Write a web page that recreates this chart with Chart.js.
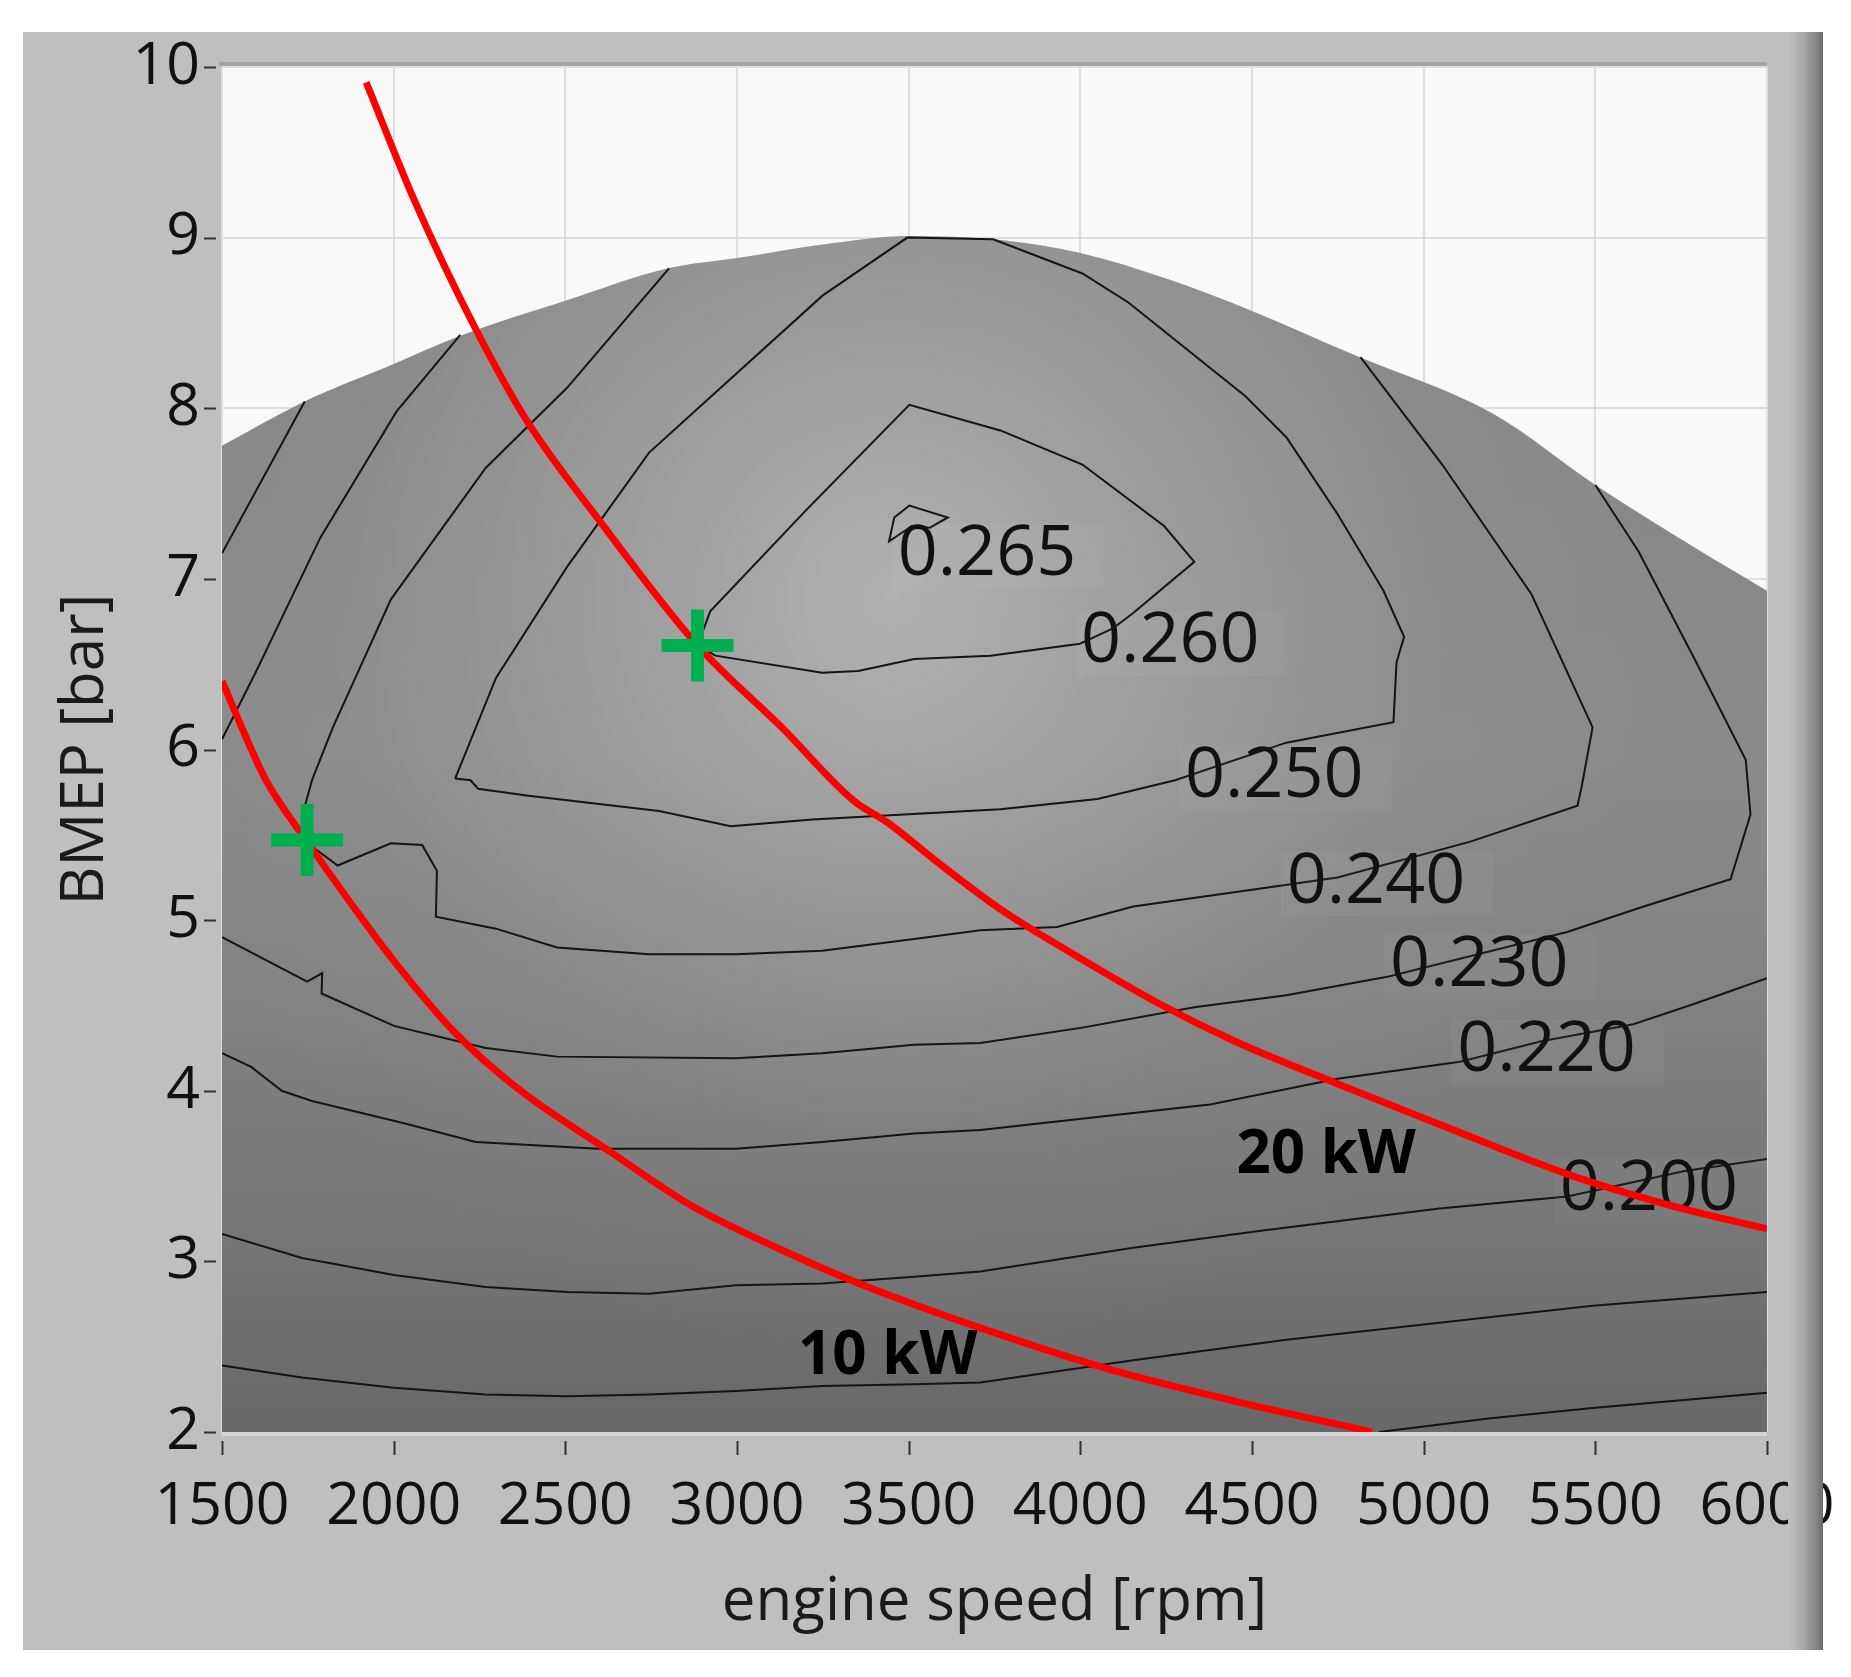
<!DOCTYPE html>
<html>
<head>
<meta charset="utf-8">
<script src="https://cdn.jsdelivr.net/npm/chart.js@4.4.1/dist/chart.umd.min.js"></script>
<style>
  html, body { margin: 0; padding: 0; background: #fff; overflow: hidden; }
  #wrap { position: relative; width: 1851px; height: 1677px; }
</style>
</head>
<body>
<div id="wrap"><canvas id="bsfcMap"></canvas></div>
<script>
// axis ticks
const rpmTicks = [1500, 2000, 2500, 3000, 3500, 4000, 4500, 5000, 5500, 6000];
const bmepTicks = [2, 3, 4, 5, 6, 7, 8, 9, 10];

// full-load line = upper edge of the shaded map  [rpm, bmep]
const fullLoad = [[1500, 7.78], [1740, 8.04], [2000, 8.26], [2200, 8.43], [2500, 8.63], [2800, 8.82],
  [3000, 8.88], [3250, 8.96], [3500, 9.01], [3750, 8.99], [4000, 8.91], [4250, 8.76], [4500, 8.57],
  [4800, 8.31], [5200, 7.97], [5500, 7.55], [5800, 7.17], [6000, 6.93]];

// iso-BSFC lines  [rpm, bmep]
const c265 = [[3458, 7.36], [3502, 7.43], [3614, 7.36], [3562, 7.30], [3510, 7.31], [3443, 7.22], [3458, 7.36]];
const c260 = [[2885, 6.61], [2922, 6.81], [3200, 7.40], [3502, 8.02], [3767, 7.87], [4006, 7.67], [4244, 7.31],
  [4332, 7.10], [4154, 6.80], [4095, 6.71], [3999, 6.62], [3738, 6.55], [3516, 6.53], [3353, 6.46],
  [3248, 6.45], [2937, 6.55], [2885, 6.61]];
const c250 = [[2179, 5.83], [2298, 6.42], [2505, 7.07], [2744, 7.74], [3249, 8.66], [3496, 9.0], [3746, 8.99],
  [4006, 8.79], [4140, 8.62], [4481, 8.07], [4600, 7.83], [4749, 7.38], [4883, 6.93], [4943, 6.66],
  [4921, 6.51], [4912, 6.16], [4600, 6.04], [4276, 5.82], [4050, 5.71], [3767, 5.65], [3219, 5.59],
  [2982, 5.55], [2773, 5.64], [2387, 5.73], [2246, 5.77], [2224, 5.82], [2179, 5.83]];
const c240 = [[2802, 8.82], [2505, 8.12], [2268, 7.65], [1992, 6.88], [1823, 6.13], [1762, 5.82], [1735, 5.62],
  [1770, 5.42], [1837, 5.32], [1992, 5.45], [2083, 5.44], [2126, 5.29], [2123, 5.02], [2298, 4.95],
  [2476, 4.84], [2744, 4.80], [2997, 4.80], [3248, 4.82], [3516, 4.89], [3709, 4.94], [3932, 4.96],
  [4154, 5.08], [4541, 5.19], [4749, 5.25], [5136, 5.46], [5448, 5.67], [5460, 5.78], [5492, 6.13],
  [5314, 6.91], [5054, 7.67], [4816, 8.30]];
const c230a = [[1500, 6.06], [1600, 6.46], [1786, 7.24], [2008, 7.98], [2194, 8.43]];
const c230b = [[1500, 4.90], [1748, 4.64], [1792, 4.69], [1790, 4.57], [2001, 4.38], [2268, 4.25], [2476, 4.20],
  [2997, 4.19], [3248, 4.22], [3516, 4.27], [3709, 4.28], [4006, 4.37], [4332, 4.49], [4600, 4.56],
  [4898, 4.67], [5418, 4.93], [5641, 5.08], [5894, 5.24], [5952, 5.62], [5938, 5.94], [5789, 6.53],
  [5626, 7.16], [5500, 7.55]];
const c220a = [[1500, 7.15], [1741, 8.04]];
const c220b = [[1500, 4.22], [1585, 4.14], [1674, 4.00], [1762, 3.94], [2030, 3.81], [2239, 3.70], [2596, 3.66],
  [2997, 3.66], [3248, 3.70], [3516, 3.75], [3709, 3.77], [4154, 3.87], [4378, 3.92], [4749, 4.07],
  [5106, 4.17], [5343, 4.29], [5611, 4.39], [5789, 4.51], [6000, 4.66]];
const c200 = [[1500, 3.16], [1733, 3.02], [2001, 2.92], [2268, 2.85], [2505, 2.82], [2744, 2.81], [2997, 2.86],
  [3248, 2.87], [3516, 2.91], [3709, 2.94], [4154, 3.08], [4526, 3.18], [5046, 3.31], [5418, 3.38],
  [5760, 3.53], [6000, 3.60]];
const c190 = [[1500, 2.39], [1733, 2.32], [2001, 2.26], [2268, 2.22], [2505, 2.21], [2744, 2.22], [2997, 2.24],
  [3248, 2.27], [3516, 2.28], [3709, 2.29], [4154, 2.42], [4600, 2.54], [5046, 2.64], [5492, 2.74],
  [6000, 2.82]];
const c180 = [[4870, 2.0], [5195, 2.08], [5492, 2.14], [6000, 2.23]];

// constant power lines [rpm, bmep]
const power20 = [[1920, 9.91], [2060, 9.22], [2240, 8.46], [2390, 7.92], [2600, 7.34], [2885, 6.61], [3130, 6.13],
  [3340, 5.70], [3440, 5.57], [3590, 5.33], [3770, 5.06], [3930, 4.86], [4230, 4.51], [4450, 4.29],
  [4750, 4.04], [5050, 3.80], [5420, 3.51], [5715, 3.33], [6000, 3.19]];
const power10 = [[1500, 6.40], [1628, 5.82], [1748, 5.46], [1882, 5.08], [2001, 4.76], [2179, 4.34], [2357, 4.02],
  [2625, 3.65], [2864, 3.33], [3116, 3.08], [3368, 2.86], [3709, 2.61], [4080, 2.37], [4452, 2.18],
  [4850, 2.0]];

// operating points (green crosses)
const opPoints = [[1748, 5.47], [2885, 6.61]];

const contourLabels = [
  { text: '0.265', rpm: 3728, bmep: 7.14 },
  { text: '0.260', rpm: 4262, bmep: 6.63 },
  { text: '0.250', rpm: 4565, bmep: 5.84 },
  { text: '0.240', rpm: 4861, bmep: 5.22 },
  { text: '0.230', rpm: 5162, bmep: 4.73 },
  { text: '0.220', rpm: 5358, bmep: 4.23 },
  { text: '0.200', rpm: 5656, bmep: 3.42 }
];
const powerLabels = [
  { text: '20 kW', rpm: 4716, bmep: 3.62 },
  { text: '10 kW', rpm: 3439, bmep: 2.44 }
];

const FONT = '"Open Sans", "DejaVu Sans", sans-serif';
const xy = arr => arr.map(p => ({ x: p[0], y: p[1] }));

// shading of the map: dark towards low load, light spot round the best point
function baseShade(chart) {
  const { ctx, chartArea, scales } = chart;
  if (!chartArea) return '#888';
  const g = ctx.createLinearGradient(0, scales.y.getPixelForValue(9), 0, scales.y.getPixelForValue(2));
  g.addColorStop(0, '#868686');
  g.addColorStop(0.43, '#8a8a8a');
  g.addColorStop(0.64, '#828282');
  g.addColorStop(0.86, '#747474');
  g.addColorStop(1, '#686868');
  return g;
}
function glowShade(chart) {
  const { ctx, chartArea, scales } = chart;
  if (!chartArea) return 'rgba(255,255,255,0)';
  const cx = scales.x.getPixelForValue(3450), cy = scales.y.getPixelForValue(6.9);
  const g = ctx.createRadialGradient(cx, cy, 0, cx, cy, 780);
  g.addColorStop(0, 'rgba(255,255,255,0.34)');
  g.addColorStop(0.35, 'rgba(255,255,255,0.17)');
  g.addColorStop(0.7, 'rgba(255,255,255,0.03)');
  g.addColorStop(1, 'rgba(255,255,255,0)');
  return g;
}

const contourSet = (label, arr) => ({
  label, data: xy(arr), borderColor: '#141414', borderWidth: 2, pointRadius: 0,
  tension: 0, fill: false, order: 10
});

const framePlugin = {
  id: 'frame',
  beforeDraw(chart) {
    const { ctx, chartArea: a } = chart;
    ctx.save();
    ctx.fillStyle = '#ffffff';
    ctx.fillRect(0, 0, chart.width, chart.height);
    ctx.fillStyle = '#bfbfbf';
    ctx.fillRect(23, 32, 1800, 1618);
    ctx.fillStyle = '#f9f9f9';
    ctx.fillRect(a.left, a.top, a.right - a.left, a.bottom - a.top);
    ctx.restore();
  },
  beforeDatasetDraw(chart, args) {
    // labels sit above the iso lines but under the red power lines
    if (chart.data.datasets[args.index].label !== '10 kW') return;
    const { ctx, scales } = chart;
    ctx.save();
    ctx.textAlign = 'center';
    ctx.textBaseline = 'middle';
    ctx.font = '70px ' + FONT;
    contourLabels.forEach(l => {
      const px = scales.x.getPixelForValue(l.rpm), py = scales.y.getPixelForValue(l.bmep);
      const w = ctx.measureText(l.text).width;
      // faint box behind each value, as in the source map
      ctx.fillStyle = 'rgba(255,255,255,0.035)';
      ctx.fillRect(px - w / 2 - 6, py - 32, w + 34, 66);
      ctx.fillStyle = '#111';
      ctx.fillText(l.text, px, py);
    });
    ctx.font = 'bold 60px ' + FONT;
    ctx.fillStyle = '#000';
    powerLabels.forEach(l => {
      ctx.fillText(l.text, scales.x.getPixelForValue(l.rpm), scales.y.getPixelForValue(l.bmep));
    });
    ctx.restore();
  },
  afterDraw(chart) {
    const { ctx, chartArea: a, scales } = chart;
    ctx.save();
    // darker rim on top of the plot, light one below
    ctx.fillStyle = '#a4a4a4';
    ctx.fillRect(a.left - 3, a.top - 5, a.right - a.left + 3, 4);
    ctx.fillStyle = '#d6d6d6';
    ctx.fillRect(a.left, a.bottom, a.right - a.left, 4);
    // tick marks
    ctx.strokeStyle = '#333';
    ctx.lineWidth = 2;
    rpmTicks.forEach(v => {
      const px = Math.round(scales.x.getPixelForValue(v)) + 0.5;
      ctx.beginPath(); ctx.moveTo(px, a.bottom + 9); ctx.lineTo(px, a.bottom + 23); ctx.stroke();
    });
    bmepTicks.forEach(v => {
      const py = Math.round(scales.y.getPixelForValue(v)) + 0.5;
      ctx.beginPath(); ctx.moveTo(a.left - 18, py); ctx.lineTo(a.left - 6, py); ctx.stroke();
    });
    // splitter bar at the right edge of the panel
    const g = ctx.createLinearGradient(1788, 0, 1823, 0);
    g.addColorStop(0, '#c0c0c0');
    g.addColorStop(0.45, '#a8a8a8');
    g.addColorStop(0.85, '#808080');
    g.addColorStop(1, '#6a6a6a');
    ctx.fillStyle = g;
    ctx.fillRect(1788, 32, 35, 1618);
    ctx.restore();
  }
};

new Chart(document.getElementById('bsfcMap'), {
  type: 'line',
  data: {
    datasets: [
      { label: 'map', data: xy(fullLoad), fill: 'start', borderWidth: 0, pointRadius: 0,
        cubicInterpolationMode: 'monotone', backgroundColor: c => baseShade(c.chart), order: 30 },
      { label: 'glow', data: xy(fullLoad), fill: 'start', borderWidth: 0, pointRadius: 0,
        cubicInterpolationMode: 'monotone', backgroundColor: c => glowShade(c.chart), order: 29 },
      contourSet('0.265', c265),
      contourSet('0.260', c260),
      contourSet('0.250', c250),
      contourSet('0.240', c240),
      contourSet('0.230', c230a),
      contourSet('0.230', c230b),
      contourSet('0.220', c220a),
      contourSet('0.220', c220b),
      contourSet('0.200', c200),
      contourSet('0.190', c190),
      contourSet('0.180', c180),
      { label: '10 kW', data: xy(power10), borderColor: '#ff0000', borderWidth: 7, pointRadius: 0,
        cubicInterpolationMode: 'monotone', fill: false, order: 3 },
      { label: '20 kW', data: xy(power20), borderColor: '#ff0000', borderWidth: 7, pointRadius: 0,
        cubicInterpolationMode: 'monotone', fill: false, order: 2 },
      { label: 'points', data: xy(opPoints), showLine: false, pointStyle: 'cross', pointRadius: 36,
        pointBorderWidth: 13, pointBorderColor: '#00b050', pointBackgroundColor: '#00b050', order: 1 }
    ]
  },
  options: {
    responsive: true,
    maintainAspectRatio: false,
    animation: false,
    events: [],
    layout: { padding: { left: 23, top: 67, right: 84, bottom: 27 } },
    plugins: { legend: { display: false }, tooltip: { enabled: false } },
    scales: {
      x: {
        type: 'linear', min: 1500, max: 6000,
        afterBuildTicks: s => { s.ticks = rpmTicks.map(v => ({ value: v })); },
        afterFit: s => { s.height = 218; s.paddingLeft = 0; s.paddingRight = 0; },
        grid: { color: '#dedede', lineWidth: 2, drawTicks: false },
        border: { display: false },
        ticks: { autoSkip: false, maxRotation: 0, padding: 40, color: '#111',
                 callback: v => String(v), font: { family: FONT, size: 59 } },
        title: { display: true, text: 'engine speed [rpm]', color: '#1a1a1a',
                 font: { family: FONT, size: 60 }, padding: { top: 0, bottom: 11 } }
      },
      y: {
        type: 'linear', min: 2, max: 10,
        afterBuildTicks: s => { s.ticks = bmepTicks.map(v => ({ value: v })); },
        afterFit: s => { s.width = 199; s.paddingTop = 0; s.paddingBottom = 0; },
        grid: { color: '#dedede', lineWidth: 2, drawTicks: false },
        border: { display: false },
        ticks: { autoSkip: false, padding: 22, color: '#111',
                 callback: v => String(v), font: { family: FONT, size: 59 } },
        title: { display: true, text: 'BMEP [bar]', color: '#1a1a1a',
                 font: { family: FONT, size: 60 }, padding: { top: 27, bottom: 0 } }
      }
    }
  },
  plugins: [framePlugin]
});
</script>
</body>
</html>
